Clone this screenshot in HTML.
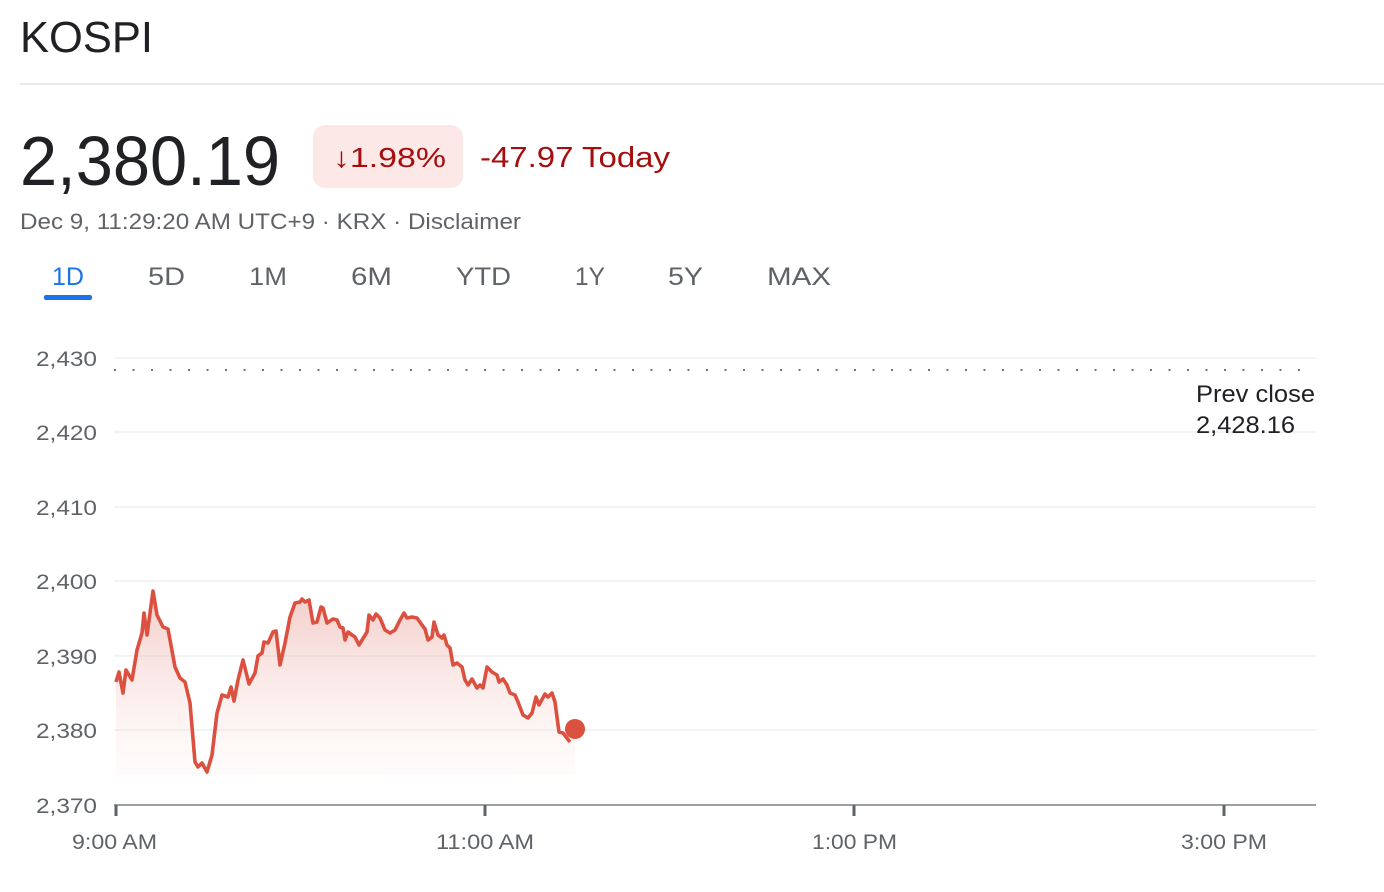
<!DOCTYPE html>
<html><head><meta charset="utf-8"><style>
html,body{margin:0;padding:0;background:#fff;}
svg{display:block;font-family:"Liberation Sans",Arial,sans-serif;}
</style></head><body>
<svg width="1384" height="892" viewBox="0 0 1384 892" xmlns="http://www.w3.org/2000/svg">
<defs>
<linearGradient id="g" x1="0" y1="590" x2="0" y2="775" gradientUnits="userSpaceOnUse">
<stop offset="0" stop-color="#e8a19a" stop-opacity="0.55"/>
<stop offset="1" stop-color="#fbe9e7" stop-opacity="0.15"/>
</linearGradient>
</defs>
<text x="20" y="52" font-size="44" fill="#202124" textLength="133" lengthAdjust="spacingAndGlyphs">KOSPI</text>
<rect x="20" y="83" width="1364" height="2" fill="#e8eaed"/>
<text x="20" y="185" font-size="70" fill="#202124" textLength="260" lengthAdjust="spacingAndGlyphs">2,380.19</text>
<rect x="313" y="125" width="150" height="63" rx="12" fill="#fce8e6"/>
<text x="333" y="167" font-size="28" fill="#a50e0e" textLength="113" lengthAdjust="spacingAndGlyphs">↓1.98%</text>
<text x="480" y="167" font-size="29" fill="#a50e0e" textLength="190" lengthAdjust="spacingAndGlyphs">-47.97 Today</text>
<text x="20" y="229" font-size="22" fill="#5f6368" textLength="501" lengthAdjust="spacingAndGlyphs">Dec 9, 11:29:20 AM UTC+9 · KRX · Disclaimer</text>
<g font-size="25" fill="#5f6368">
<text x="52" y="285" fill="#1a73e8" textLength="32" lengthAdjust="spacingAndGlyphs">1D</text>
<text x="148" y="285" textLength="37" lengthAdjust="spacingAndGlyphs">5D</text>
<text x="249" y="285" textLength="38" lengthAdjust="spacingAndGlyphs">1M</text>
<text x="351" y="285" textLength="41" lengthAdjust="spacingAndGlyphs">6M</text>
<text x="456" y="285" textLength="55" lengthAdjust="spacingAndGlyphs">YTD</text>
<text x="575" y="285" textLength="30" lengthAdjust="spacingAndGlyphs">1Y</text>
<text x="668" y="285" textLength="35" lengthAdjust="spacingAndGlyphs">5Y</text>
<text x="767" y="285" textLength="64" lengthAdjust="spacingAndGlyphs">MAX</text>
</g>
<rect x="44" y="295" width="48" height="5" rx="2" fill="#1a73e8"/>
<g stroke="#f1f3f4" stroke-width="2">
<line x1="114" y1="358" x2="1316" y2="358"/>
<line x1="114" y1="432" x2="1316" y2="432"/>
<line x1="114" y1="507" x2="1316" y2="507"/>
<line x1="114" y1="581" x2="1316" y2="581"/>
<line x1="114" y1="656" x2="1316" y2="656"/>
<line x1="114" y1="730" x2="1316" y2="730"/>
</g>
<line x1="114" y1="805" x2="1316" y2="805" stroke="#9aa0a6" stroke-width="2"/>
<g fill="#5f6368" font-size="21">
<text x="36" y="366" textLength="61" lengthAdjust="spacingAndGlyphs">2,430</text>
<text x="36" y="440" textLength="61" lengthAdjust="spacingAndGlyphs">2,420</text>
<text x="36" y="515" textLength="61" lengthAdjust="spacingAndGlyphs">2,410</text>
<text x="36" y="589" textLength="61" lengthAdjust="spacingAndGlyphs">2,400</text>
<text x="36" y="664" textLength="61" lengthAdjust="spacingAndGlyphs">2,390</text>
<text x="36" y="738" textLength="61" lengthAdjust="spacingAndGlyphs">2,380</text>
<text x="36" y="813" textLength="61" lengthAdjust="spacingAndGlyphs">2,370</text>
</g>
<g stroke="#5f6368" stroke-width="3">
<line x1="116" y1="805" x2="116" y2="816"/><line x1="485" y1="805" x2="485" y2="816"/>
<line x1="854" y1="805" x2="854" y2="816"/><line x1="1224" y1="805" x2="1224" y2="816"/>
</g>
<g fill="#5f6368" font-size="21">
<text x="72" y="849" textLength="85" lengthAdjust="spacingAndGlyphs">9:00 AM</text>
<text x="436" y="849" textLength="98" lengthAdjust="spacingAndGlyphs">11:00 AM</text>
<text x="812" y="849" textLength="85" lengthAdjust="spacingAndGlyphs">1:00 PM</text>
<text x="1181" y="849" textLength="86" lengthAdjust="spacingAndGlyphs">3:00 PM</text>
</g>
<line x1="114" y1="370" x2="1310" y2="370" stroke="#70757a" stroke-width="2" stroke-dasharray="2 16.5"/>
<text x="1196" y="402" font-size="24" fill="#202124" textLength="119" lengthAdjust="spacingAndGlyphs">Prev close</text>
<text x="1196" y="433" font-size="24" fill="#202124" textLength="99" lengthAdjust="spacingAndGlyphs">2,428.16</text>
<path fill="url(#g)" d="M116,682 L119,672 123,693 126,670 132,680 137,650 142,633 144,613 147,635 153,591 157,615 163,627 168,629 175,667 180,678 185,682 190,703 195,762 198,767 202,763 207,772 212,755 217,713 222,695 228,697 231,687 234,701 238,680 243,660 249,684 255,673 258,656 262,653 264,642 268,643 273,632 276,631 280,665 285,643 290,617 295,603 300,602 302,599 305,602 309,600 313,623 317,622 321,607 323,608 327,623 333,619 337,620 340,627 343,628 345,640 348,632 352,635 355,637 359,645 367,632 369,615 373,620 376,614 380,618 385,630 390,633 395,630 400,620 404,613 407,618 412,617 417,618 422,625 425,629 428,640 432,637 434,622 438,635 442,638 444,635 447,645 450,648 453,665 457,663 462,667 465,680 468,685 472,679 477,688 480,685 483,688 487,667 492,672 497,675 499,682 503,679 507,685 510,693 515,695 518,702 523,715 528,718 532,713 536,697 539,705 545,694 548,697 552,693 555,702 559,732 563,733 570,742 575,729 L575,775 L116,775 Z"/>
<polyline fill="none" stroke="#dc5040" stroke-width="3.6" stroke-linejoin="round" points="116,682 119,672 123,693 126,670 132,680 137,650 142,633 144,613 147,635 153,591 157,615 163,627 168,629 175,667 180,678 185,682 190,703 195,762 198,767 202,763 207,772 212,755 217,713 222,695 228,697 231,687 234,701 238,680 243,660 249,684 255,673 258,656 262,653 264,642 268,643 273,632 276,631 280,665 285,643 290,617 295,603 300,602 302,599 305,602 309,600 313,623 317,622 321,607 323,608 327,623 333,619 337,620 340,627 343,628 345,640 348,632 352,635 355,637 359,645 367,632 369,615 373,620 376,614 380,618 385,630 390,633 395,630 400,620 404,613 407,618 412,617 417,618 422,625 425,629 428,640 432,637 434,622 438,635 442,638 444,635 447,645 450,648 453,665 457,663 462,667 465,680 468,685 472,679 477,688 480,685 483,688 487,667 492,672 497,675 499,682 503,679 507,685 510,693 515,695 518,702 523,715 528,718 532,713 536,697 539,705 545,694 548,697 552,693 555,702 559,732 563,733 570,742"/>
<circle cx="575" cy="729" r="10" fill="#dc5040"/>
</svg>
</body></html>
